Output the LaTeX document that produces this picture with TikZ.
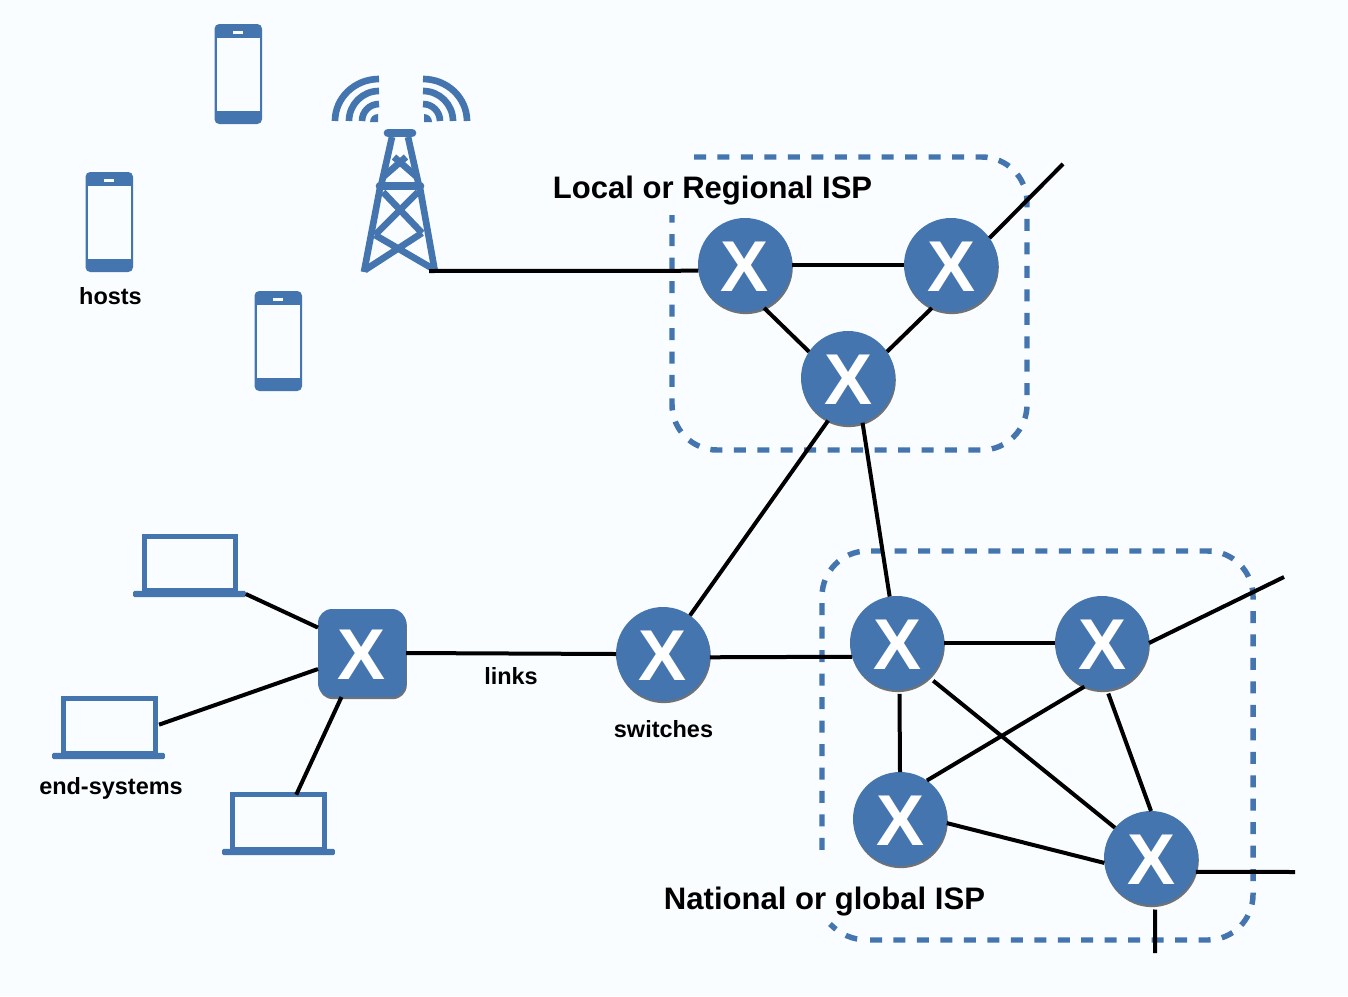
\documentclass[tikz,border=0pt]{standalone}
\usepackage{fontspec}
\setmainfont{Liberation Sans}
\usepackage{tikz}
\usetikzlibrary{shadows}
\definecolor{ispblue}{HTML}{4475AF}
\definecolor{paper}{HTML}{F9FDFF}
\begin{document}
\begin{tikzpicture}[
		x=0.75pt,y=-0.75pt,
		switchshadow/.style={drop shadow={shadow xshift=0.6pt,shadow yshift=-1.6pt,opacity=0.55,fill=black}},
		switchnode/.style={circle,fill=ispblue,switchshadow,minimum size=70.5pt,inner sep=0pt,outer sep=0pt,text=white,text height=40pt,font=\fontsize{54}{54}\selectfont\bfseries},
		hubnode/.style={rectangle,rounded corners=10.5pt,fill=ispblue,switchshadow,minimum size=66pt,inner sep=0pt,outer sep=0pt,text=white,text height=40pt,font=\fontsize{54}{54}\selectfont\bfseries},
		laptopbox/.style={rectangle,draw=ispblue,line width=3.6pt,minimum width=68.6pt,minimum height=41pt,inner sep=0pt,outer sep=0pt},
		laptopbase/.style={rectangle,rounded corners=1pt,fill=ispblue,minimum width=84.5pt,minimum height=4.8pt,inner sep=0pt,outer sep=0pt},
		ispborder/.style={draw=ispblue,line width=4.1pt,dash pattern=on 9pt off 8.6pt},
		link/.style={draw=black,line width=3pt},
		smalllabel/.style={font=\fontsize{17.6}{17.6}\selectfont\bfseries,inner sep=0pt},
		biglabel/.style={font=\fontsize{23.3}{23.3}\selectfont\bfseries,inner sep=0pt},
		phone/.pic={
			\fill[ispblue,rounded corners=3.5pt] (-23.5,-50) rectangle (24,50);
			\fill[paper] (-21,-36.5) rectangle (21.5,37);
			\fill[paper] (-5,-43.5) rectangle (5,-40.5);
		},
		tower/.pic={
			\begin{scope}[draw=ispblue,line width=5pt]
				\draw[line width=6.5pt,line cap=round] (-12,-67) -- (12,-67);
				\draw[line width=6.5pt,line cap=round] (-20,-14) -- (20,-14);
				\draw (-8,-63) -- (-19,-14) (8,-63) -- (19,-14);
				\draw (-20,-12) -- (-36,72) (20,-12) -- (35,72);
				\draw (-6,-43) -- (17,-23) (6,-43) -- (-17,-23);
				\draw (-17,-8) -- (22,33) (18,-8) -- (-25,35);
				\draw (-25,35) -- (35,70) (22,33) -- (-35,70);
				\begin{scope}[line width=5pt]
					\draw (-65,-79) arc[start angle=180,end angle=270,x radius=44,y radius=42];
					\draw (-51,-79) arc[start angle=180,end angle=270,radius=30];
					\draw (-38,-79) arc[start angle=180,end angle=270,radius=17];
					\draw (67,-79) arc[start angle=0,end angle=-90,x radius=44,y radius=42];
					\draw (53,-79) arc[start angle=0,end angle=-90,radius=30];
					\draw (40,-79) arc[start angle=0,end angle=-90,radius=17];
				\end{scope}
				\fill[ispblue] (-22,-78) -- (-30,-78) arc[start angle=180,end angle=270,radius=8] -- cycle;
				\fill[ispblue] (24,-78) -- (32,-78) arc[start angle=0,end angle=-90,radius=8] -- cycle;
			\end{scope}
		}
		]
		\useasboundingbox (0,0) rectangle (1348,996);
		\fill[paper] (0,0) rectangle (1348,996);

		% ISP borders
		\draw[ispborder,rounded corners=34pt] (694,157) -- (1027,157) -- (1027,450) -- (672,450) -- (672,215);
		\draw[ispborder,dash phase=3pt] (830,924) .. controls (840,934) and (852,940) .. (868,940);
		\draw[ispborder,rounded corners=34pt] (870,940) -- (1253,940) -- (1253,551) -- (822,551) -- (822,860);

		% hosts and tower
		\pic at (238,74) {phone};
		\pic at (109,222) {phone};
		\pic at (278,341) {phone};
		\pic at (400,200) {tower};
		\coordinate (T0) at (429,271);

		% laptops
		\node[laptopbox] (P1) at (190,563.5) {};
		\node[laptopbase] (B1) at (189.5,594) {};
		\node[laptopbox] (P2) at (109.5,726) {};
		\node[laptopbase] (B2) at (108.5,756) {};
		\node[laptopbox] (P3) at (278.5,822) {};
		\node[laptopbase] (B3) at (278.5,852) {};

		% switches
		\node[hubnode] (E0) at (362,653) {X};
		\node[switchnode] (M0) at (663,654) {X};
		\node[switchnode] (L1) at (745,265) {X};
		\node[switchnode] (L2) at (951,265) {X};
		\node[switchnode] (L3) at (848,378) {X};
		\node[switchnode] (N1) at (897,643) {X};
		\node[switchnode] (N2) at (1102,643) {X};
		\node[switchnode] (N3) at (900,819) {X};
		\node[switchnode] (N4) at (1151,858) {X};

		% free ends
		\coordinate (O1) at (1063,164);
		\coordinate (O2) at (1284,577);
		\coordinate (O3) at (1295,872);
		\coordinate (O4) at (1155,953);

		% links
		\draw[link] (T0) -- (L1.187);
		\draw[link] (L1.east) -- (L2.west);
		\draw[link] (L1.294) -- (L3.146);
		\draw[link] (L2.246) -- (L3.34);
		\draw[link] (L2.35) -- (O1);
		\draw[link] (L3.245) -- (M0.55);
		\draw[link] (L3.288) -- (N1.99);
		\draw[link] (E0.east) -- (M0.west);
		\draw[link] (M0.356) -- (N1.197);
		\draw[link] (N1.east) -- (N2.west);
		\draw[link,shorten <=3pt] (N1.273) -- (N3.north);
		\draw[link,shorten <=4pt] (N1.313) -- (N4.140);
		\draw[link] (N2.248) -- (N3.55);
		\draw[link,shorten <=3pt] (N2.276) -- (N4.north);
		\draw[link] (N2.east) -- (O2);
		\draw[link] (N3.355) -- (N4.186);
		\draw[link] (N4.343) -- (O3);
		\draw[link,shorten <=3.5pt] (N4.275) -- (O4);
		\draw[link] (B1.east) -- (E0.150);
		\draw[link,shorten <=3pt] (P2.east) -- (E0.200);
		\draw[link] (P3.57) -- (E0.245);

		% labels
		\node[smalllabel] (hostsLabel) at (110.5,296) {hosts};
		\node[smalllabel] (endLabel) at (111,788) {end-systems};
		\node[smalllabel] (linksLabel) at (511,676) {links};
		\node[smalllabel] (switchesLabel) at (663.5,729) {switches};
		\node[biglabel] (localLabel) at (712.5,191) {Local or Regional ISP};
		\node[biglabel] (nationalLabel) at (824.5,902) {National or global ISP};
	\end{tikzpicture}
\end{document}
